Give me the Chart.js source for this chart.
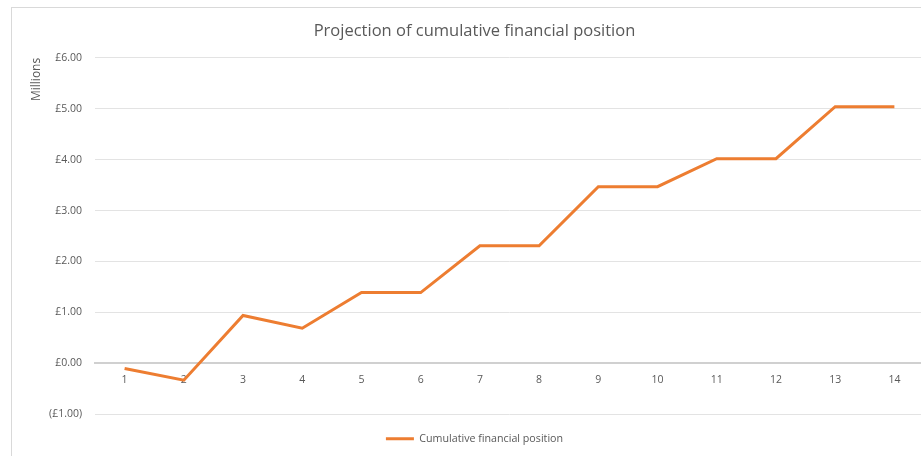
<!DOCTYPE html>
<html lang="en">
<head>
  <meta charset="UTF-8">
  <title>Projection of cumulative financial position</title>
  <script src="https://cdn.jsdelivr.net/npm/chart.js"></script>
  <style>
    html, body { margin: 0; padding: 0; background: #fff; overflow: hidden; }
    .frame { position: absolute; left: 11px; top: 7px; width: 960px; height: 520px; border: 1px solid #d9d9d9; }
    .wrap { position: absolute; left: 0; top: 0; width: 949px; height: 456px; }
  </style>
</head>
<body>
  <div class="frame"></div>
  <div class="wrap"><canvas id="chart"></canvas></div>

  <script>
    // periods along the bottom
    const periods = ["1", "2", "3", "4", "5", "6", "7", "8", "9", "10", "11", "12", "13", "14"];

    // cumulative position, £ millions
    const cumulative = [-0.10, -0.33, 0.94, 0.69, 1.39, 1.39, 2.31, 2.31, 3.47, 3.47, 4.02, 4.02, 5.04, 5.04];

    const seriesName = "Cumulative financial position";
    const lineColor = "#ED7D31";
    const textColor = "#595959";
    const fontFamily = "'Open Sans', sans-serif";

    function money(v) {
      if (v < 0) return "(£" + Math.abs(v).toFixed(2) + ")";
      return "£" + v.toFixed(2);
    }

    const ctx = document.getElementById('chart').getContext('2d');
    const chart = new Chart(ctx, {
      type: 'line',
      data: {
        labels: periods,
        datasets: [{
          label: seriesName,
          data: cumulative,
          borderColor: lineColor,
          backgroundColor: lineColor,
          borderWidth: 3,
          pointRadius: 0,
          tension: 0,
          pointStyle: 'line'
        }]
      },
      options: {
        responsive: true,
        maintainAspectRatio: false,
        animation: false,
        layout: { padding: { left: 0, right: 0, top: 0, bottom: 2 } },
        plugins: {
          title: {
            display: true,
            text: "Projection of cumulative financial position",
            color: textColor,
            font: { family: fontFamily, size: 16.5, weight: 'normal' },
            padding: { top: 21, bottom: 17 }
          },
          legend: {
            position: 'bottom',
            labels: {
              color: textColor,
              font: { family: fontFamily, size: 10.7 },
              usePointStyle: true,
              pointStyleWidth: 28,
              padding: 19
            }
          },
          tooltip: { enabled: false }
        },
        scales: {
          x: {
            position: { y: 0 },
            offset: true,
            grid: { display: false, drawTicks: false },
            border: { display: true, color: '#d0d0d0', width: 2 },
            ticks: {
              color: textColor,
              font: { family: fontFamily, size: 10.5 },
              padding: 10,
              maxRotation: 0
            }
          },
          y: {
            min: -1,
            max: 6,
            afterFit: function (scale) { scale.width = 95; },
            grid: {
              drawTicks: false,
              color: c => (c.tick && c.tick.value === 0) ? '#d0d0d0' : '#e3e3e3',
              lineWidth: c => (c.tick && c.tick.value === 0) ? 2 : 1
            },
            border: { display: false },
            ticks: {
              stepSize: 1,
              color: textColor,
              font: { family: fontFamily, size: 10.5 },
              padding: 13,
              callback: v => money(v)
            },
            title: {
              display: true,
              text: "Millions",
              align: 'end',
              color: textColor,
              font: { family: fontFamily, size: 12 },
              padding: { top: 29, bottom: 0 }
            }
          },
          // empty right-hand strip: the plot runs past the window edge
          yRight: {
            position: 'right',
            min: -1,
            max: 6,
            afterFit: function (scale) { scale.width = 25; },
            grid: { display: false, drawTicks: false },
            border: { display: false },
            ticks: { display: false }
          }
        }
      }
    });
  </script>
</body>
</html>
